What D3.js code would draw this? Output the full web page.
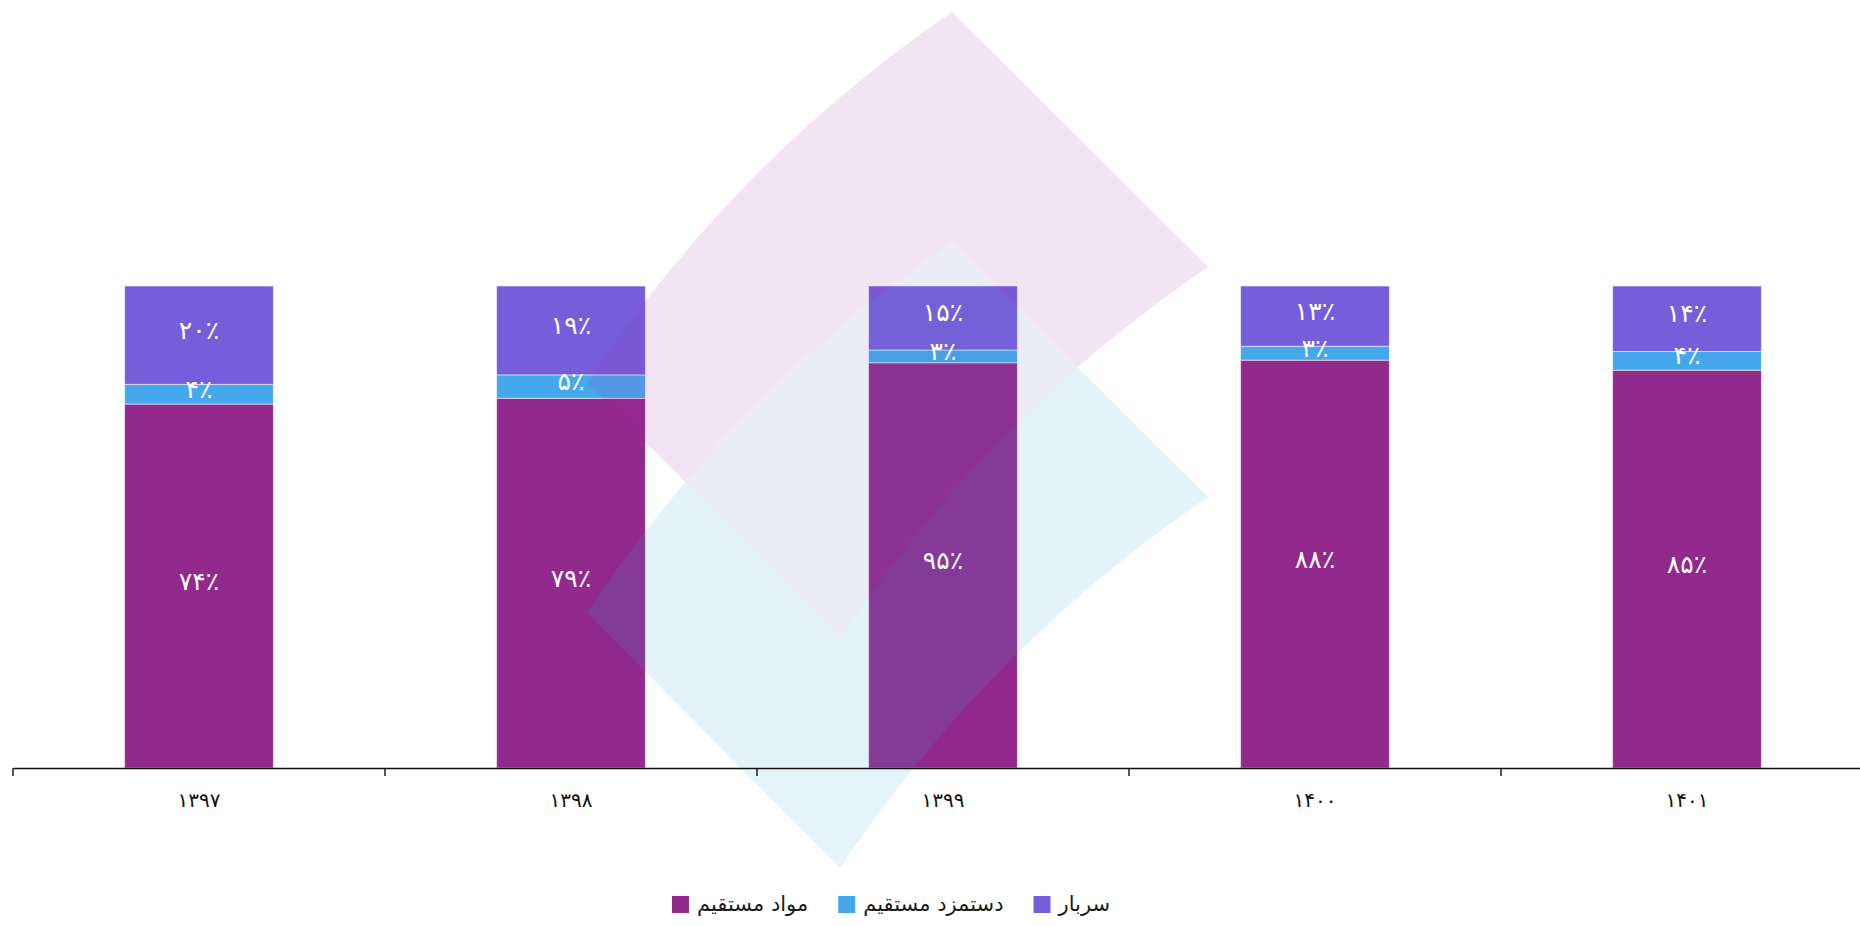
<!DOCTYPE html>
<html>
<head>
<meta charset="utf-8">
<script src="https://cdn.jsdelivr.net/npm/d3@7"></script>
<style>
  html, body { margin: 0; padding: 0; background: #fff; }
  svg { display: block; }
</style>
</head>
<body>
<div id="chart"></div>
<script>
// داده‌ها
const years = ["۱۳۹۷", "۱۳۹۸", "۱۳۹۹", "۱۴۰۰", "۱۴۰۱"];
const materials = [74, 79, 95, 88, 85];
const labor = [4, 5, 3, 3, 4];
const overhead = [20, 19, 15, 13, 14];
const seriesKeys = ["materials", "labor", "overhead"];
const seriesNames = ["مواد مستقیم", "دستمزد مستقیم", "سربار"];
const seriesColors = ["#92298d", "#46a8ec", "#765edb"];

const width = 1860, height = 926;
const axisY = 768, plotTop = 286;
const font = "'DejaVu Sans', sans-serif";

const faDigits = "۰۱۲۳۴۵۶۷۸۹";
const toFa = n => String(n).replace(/\d/g, c => faDigits[+c]);

const rows = years.map((yr, i) => ({
    year: yr,
    materials: materials[i],
    labor: labor[i],
    overhead: overhead[i]
}));

const svg = d3.select("#chart").append("svg")
    .attr("width", width)
    .attr("height", height);

const x = d3.scaleBand()
    .domain(years)
    .range([13, 1873])
    .padding(0);

const y = d3.scaleLinear()
    .domain([0, 1])
    .range([axisY, plotTop]);

const color = d3.scaleOrdinal().domain(seriesKeys).range(seriesColors);

const stacked = d3.stack()
    .keys(seriesKeys)
    .offset(d3.stackOffsetExpand)(rows);

const barW = x.bandwidth() * 0.4;
const barX = d => x(d.data.year) + (x.bandwidth() - barW) / 2;

// ستون‌ها
const layers = svg.append("g").selectAll("g.layer")
    .data(stacked)
    .enter()
    .append("g")
    .attr("class", "layer")
    .attr("fill", d => color(d.key));

layers.selectAll("rect")
    .data(d => d)
    .enter()
    .append("rect")
    .attr("x", barX)
    .attr("width", barW)
    .attr("y", d => y(d[1]))
    .attr("height", d => y(d[0]) - y(d[1]))
    .attr("stroke", "#ffffff")
    .attr("stroke-opacity", 0.55)
    .attr("stroke-width", 1);

// لوگوی پس‌زمینه (واترمارک)
function logoPath(dy) {
    const p = d3.path();
    p.moveTo(587, 383 + dy);
    p.quadraticCurveTo(733, 162 + dy, 952, 12 + dy);
    p.lineTo(1208, 267 + dy);
    p.quadraticCurveTo(988, 417 + dy, 840, 638 + dy);
    p.closePath();
    return p.toString();
}
const defs = svg.append("defs");
defs.append("clipPath").attr("id", "blueClip")
    .append("path").attr("d", logoPath(230));

const logo = svg.append("g").attr("opacity", 0.13);
logo.append("path").attr("d", logoPath(0)).attr("fill", "rgb(163,55,163)");
logo.append("path").attr("d", logoPath(230)).attr("fill", "rgb(47,170,217)");
logo.append("path").attr("d", logoPath(0))
    .attr("clip-path", "url(#blueClip)")
    .attr("fill", "rgb(105,112,190)");

// برچسب درصدها
const labelData = stacked.flatMap(s => s.map(v => ({ key: s.key, seg: v })));
svg.append("g").selectAll("text")
    .data(labelData)
    .enter()
    .append("text")
    .attr("x", d => barX(d.seg) + barW / 2)
    .attr("y", d => (y(d.seg[0]) + y(d.seg[1])) / 2)
    .attr("dy", "-0.2em")
    .attr("dominant-baseline", "central")
    .attr("text-anchor", "middle")
    .attr("fill", "#ffffff")
    .attr("font-family", font)
    .attr("font-size", "25px")
    .text(d => toFa(d.seg.data[d.key]) + "٪");

// محور افقی
const axis = svg.append("g")
    .attr("transform", `translate(0, ${axisY})`)
    .call(d3.axisBottom(x).tickSize(8).tickSizeOuter(0));

axis.select(".domain").attr("stroke", "#111").attr("stroke-width", 1.6);
axis.selectAll(".tick line")
    .attr("x1", -x.bandwidth() / 2)
    .attr("x2", -x.bandwidth() / 2)
    .attr("stroke", "#111")
    .attr("stroke-width", 1.4);
axis.selectAll(".tick text")
    .attr("y", 32)
    .attr("dy", "0.35em")
    .attr("fill", "#111")
    .attr("font-family", font)
    .attr("font-size", "20px");

// راهنما
const legend = svg.append("g").attr("transform", `translate(672, 896)`);
let lx = 0;
seriesKeys.forEach((k, i) => {
    const item = legend.append("g").attr("transform", `translate(${lx}, 0)`);
    item.append("rect")
        .attr("width", 17)
        .attr("height", 17)
        .attr("fill", color(k));
    const t = item.append("text")
        .attr("x", 25)
        .attr("y", 15)
        .attr("fill", "#1a1a1a")
        .attr("font-family", font)
        .attr("font-size", "21px")
        .text(seriesNames[i]);
    lx += 25 + t.node().getComputedTextLength() + 30;
});
</script>
</body>
</html>
